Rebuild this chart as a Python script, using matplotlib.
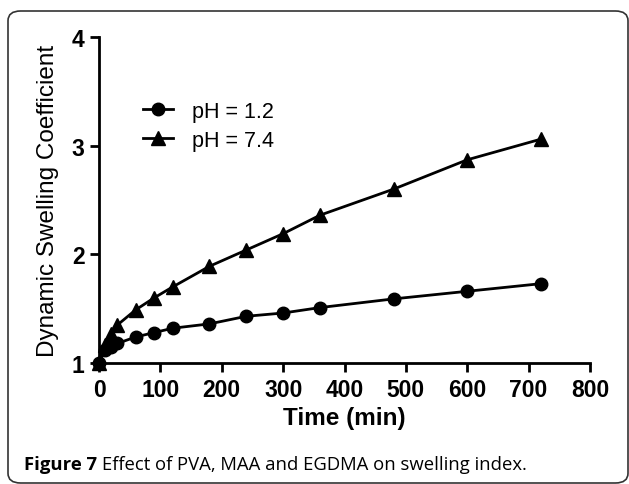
import numpy as np
import matplotlib
matplotlib.use("Agg")
import matplotlib.pyplot as plt
from matplotlib.patches import FancyBboxPatch

# swelling data
time_min = [0, 10, 20, 30, 60, 90, 120, 180, 240, 300, 360, 480, 600, 720]
ph12 = [1.00, 1.12, 1.15, 1.18, 1.24, 1.28, 1.32, 1.36, 1.43, 1.46, 1.51, 1.59, 1.66, 1.73]
ph74 = [1.00, 1.17, 1.27, 1.35, 1.49, 1.60, 1.70, 1.89, 2.04, 2.19, 2.36, 2.60, 2.87, 3.06]
labels = ["pH = 1.2", "pH = 7.4"]
xticks = [0, 100, 200, 300, 400, 500, 600, 700, 800]
yticks = [1, 2, 3, 4]

W, H = 629, 485
fig = plt.figure(figsize=(W / 100, H / 100), dpi=100)

# rounded frame around the figure
frame = FancyBboxPatch((8 / W, 1 - 484 / H), (628 - 8) / W, (484 - 12) / H,
                       boxstyle="round,pad=0,rounding_size=0.02",
                       transform=fig.transFigure, fill=False,
                       edgecolor="#333333", linewidth=1.2)
fig.patches.append(frame)

ax = fig.add_axes([99 / W, 1 - 364 / H, 491 / W, 326 / H])

ax.plot(time_min, ph12, "-o", color="black", lw=2, ms=9, label=labels[0],
        clip_on=False, zorder=3)
ax.plot(time_min, ph74, "-^", color="black", lw=2, ms=9.5, label=labels[1],
        clip_on=False, zorder=3)

ax.set_xlim(0, 800)
ax.set_ylim(1, 4)
ax.set_xticks(xticks)
ax.set_yticks(yticks)
for s in ["top", "right"]:
    ax.spines[s].set_visible(False)
for s in ["left", "bottom"]:
    ax.spines[s].set_linewidth(2)
ax.tick_params(width=2, length=6.5, direction="out", pad=4)
for t in ax.get_xticklabels() + ax.get_yticklabels():
    t.set_fontfamily("Liberation Sans")
    t.set_fontweight("bold")
    t.set_fontsize(16.5)

ax.set_xlabel("Time (min)", family="Liberation Sans", weight="bold",
              fontsize=17.5, labelpad=4)
ax.set_ylabel("Dynamic Swelling Coefficient", family="Liberation Sans",
              weight="medium", fontsize=17.5, labelpad=9)

leg = ax.legend(loc="upper left", bbox_to_anchor=(0.072, 0.83), frameon=False,
                prop={"family": "Liberation Sans", "size": 15.5},
                handlelength=1.4, handletextpad=0.9, labelspacing=0.35,
                borderaxespad=0)

# caption: bold label then regular text right after it
cap_y = 1 - 465 / H
t1 = fig.text(24 / W, cap_y, "Figure 7", family="Open Sans",
              weight="bold", fontsize=13.3, va="center", ha="left")
fig.canvas.draw()
bb = t1.get_window_extent()
fig.text((bb.x1 + 5) / W, cap_y, "Effect of PVA, MAA and EGDMA on swelling index.",
         family="Open Sans", fontsize=13.3, va="center", ha="left")

fig.savefig("out.png", dpi=100)
